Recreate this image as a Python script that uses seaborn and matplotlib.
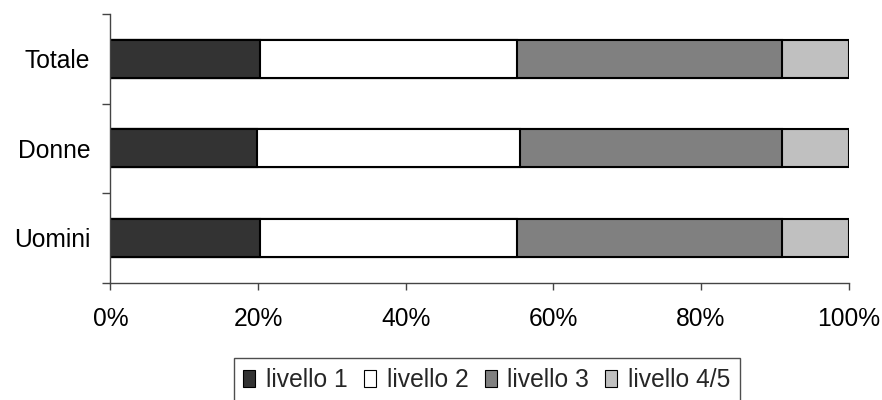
import matplotlib
matplotlib.use("Agg")
import matplotlib.pyplot as plt
import seaborn as sns
import pandas as pd
import numpy as np
from matplotlib.ticker import FixedLocator, PercentFormatter
from matplotlib.patches import Patch

categories = ["Totale", "Donne", "Uomini"]
series_names = ["livello 1", "livello 2", "livello 3", "livello 4/5"]
livello_1 = [20.2, 19.9, 20.2]
livello_2 = [34.8, 35.6, 34.8]
livello_3 = [36.0, 35.5, 36.0]
livello_45 = [9.0, 9.0, 9.0]
colors = ["#333333", "#ffffff", "#808080", "#c0c0c0"]
x_ticks = [0, 20, 40, 60, 80, 100]

sns.set_theme(style="white")
plt.rcParams['font.family'] = ['Liberation Sans', 'DejaVu Sans']
FS = 17.7

series = [livello_1, livello_2, livello_3, livello_45]
cum = np.cumsum(np.array(series), axis=0)
df = pd.DataFrame({"categoria": categories})
for name, c in zip(series_names, cum):
    df[name] = c

fig = plt.figure(figsize=(8.82, 4.0), dpi=100)
ax = fig.add_axes([110.5/882, 1-282.7/400, (848.7-110.5)/882, (282.7-14)/400])

# draw cumulative bars from largest to smallest to get stacked look
for name, col in reversed(list(zip(series_names, colors))):
    sns.barplot(data=df, x=name, y="categoria", order=categories, color=col,
                orient="h", width=0.425, edgecolor="black", linewidth=1.5,
                saturation=1, ax=ax)

ax.set_xlim(0, 100)
ax.set_ylim(2.5, -0.5)
ax.set_xlabel("")
ax.set_ylabel("")
ax.xaxis.set_major_locator(FixedLocator(x_ticks))
ax.xaxis.set_major_formatter(PercentFormatter(decimals=0))
ax.tick_params(axis="x", bottom=True, direction="out", length=5, width=1,
               color="#444444", labelsize=FS, pad=12.5, labelcolor="black")
ax.set_yticks(range(len(categories)))
ax.set_yticklabels(categories)
ax.tick_params(axis="y", which="major", left=False, length=0, labelsize=FS,
               pad=14.5, labelcolor="black")
ax.yaxis.set_minor_locator(FixedLocator([-0.5, 0.5, 1.5, 2.5]))
ax.tick_params(axis="y", which="minor", left=True, direction="out", length=5.8,
               width=1, color="#444444")
for s in ["top", "right"]:
    ax.spines[s].set_visible(False)
for s in ["left", "bottom"]:
    ax.spines[s].set_color("#444444")
    ax.spines[s].set_linewidth(1)

handles = [Patch(facecolor=c, edgecolor="black", linewidth=0.8) for c in colors]
leg = fig.legend(handles, series_names, loc="upper center",
                 bbox_to_anchor=(486.8/882, 1-358.3/400), ncol=4,
                 fontsize=FS, frameon=True, fancybox=False, shadow=False,
                 handlelength=0.49, handleheight=0.63, handletextpad=0.43,
                 columnspacing=0.66, borderpad=0.4, borderaxespad=0)
leg.get_frame().set_edgecolor("#222222")
leg.get_frame().set_linewidth(1)

fig.savefig("out.png", dpi=100)
